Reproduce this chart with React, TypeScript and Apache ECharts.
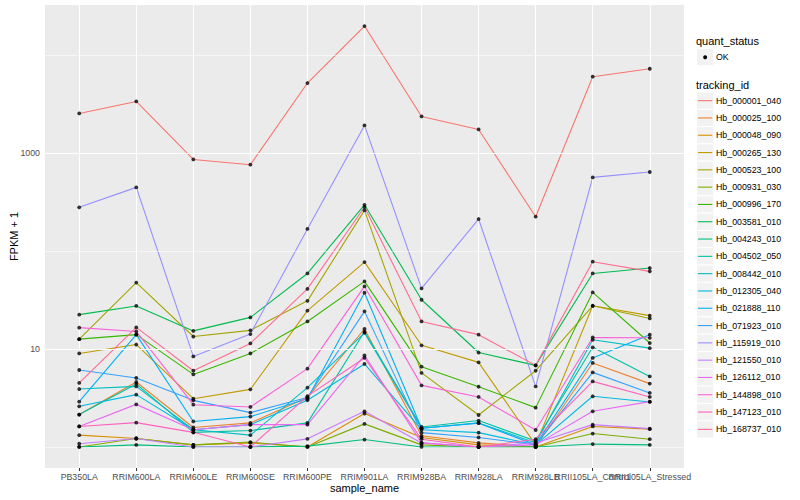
import React, { useEffect, useRef } from "react";
import * as echarts from "echarts";

const sampleNames = [
  "PB350LA", "RRIM600LA", "RRIM600LE", "RRIM600SE", "RRIM600PE", "RRIM901LA",
  "RRIM928BA", "RRIM928LA", "RRIM928LB", "RRII105LA_Control", "RRII105LA_Stressed",
];

const trackingIds = [
  "Hb_000001_040", "Hb_000025_100", "Hb_000048_090", "Hb_000265_130", "Hb_000523_100",
  "Hb_000931_030", "Hb_000996_170", "Hb_003581_010", "Hb_004243_010", "Hb_004502_050",
  "Hb_008442_010", "Hb_012305_040", "Hb_021888_110", "Hb_071923_010", "Hb_115919_010",
  "Hb_121550_010", "Hb_126112_010", "Hb_144898_010", "Hb_147123_010", "Hb_168737_010",
];

const trackingColors = [
  "#F8766D", "#EA8331", "#D89000", "#C09B00", "#A3A500", "#7CAE00", "#39B600", "#00BB4E",
  "#00BF7D", "#00C1A3", "#00BFC4", "#00BAE0", "#00B0F6", "#35A2FF", "#9590FF", "#C77CFF",
  "#E76BF3", "#FA62DB", "#FF62BC", "#FF6C91",
];

// FPKM + 1 values, one array per tracking_id, in sampleNames order
const hb_000001_040 = [2535, 3363, 860, 760, 5180, 19770, 2362, 1741, 224, 6010, 7245];
const hb_000025_100 = [2.14, 4.6, 1.58, 1.76, 3.2, 16.0, 1.3, 1.1, 1.0, 7.2, 4.43];
const hb_000048_090 = [1.32, 1.22, 1.05, 1.1, 1.0, 2.19, 1.25, 1.05, 1.0, 1.62, 1.52];
const hb_000265_130 = [9.0, 11.1, 3.11, 3.87, 24.6, 77, 10.9, 7.3, 1.05, 27.6, 21.9];
const hb_000523_100 = [12.6, 47.6, 13.4, 15.5, 31, 260, 5.7, 2.12, 6.0, 27.6, 20.5];
const hb_000931_030 = [1.0, 1.22, 1.05, 1.12, 1.0, 1.72, 1.05, 1.0, 1.0, 1.37, 1.2];
const hb_000996_170 = [12.6, 14.0, 5.5, 9.0, 19.1, 49, 6.6, 4.12, 2.52, 37.8, 11.5];
const hb_003581_010 = [22.4, 27.5, 15.3, 21, 59, 296, 31.8, 9.2, 6.8, 59, 67];
const hb_004243_010 = [1.0, 1.05, 1.0, 1.0, 1.02, 1.19, 1.0, 1.0, 1.0, 1.07, 1.05];
const hb_004502_050 = [2.14, 4.4, 1.41, 1.47, 1.76, 15.0, 1.6, 1.86, 1.15, 10.4, 5.25];
const hb_008442_010 = [3.9, 4.15, 1.5, 1.32, 4.03, 14.6, 1.55, 1.76, 1.1, 12.4, 10.2];
const hb_012305_040 = [2.6, 3.42, 1.5, 1.69, 3.0, 7.03, 1.5, 1.4, 1.05, 3.29, 2.88];
const hb_021888_110 = [2.9, 14.0, 1.82, 2.04, 3.1, 37.5, 1.55, 1.75, 1.05, 8.1, 14.0];
const hb_071923_010 = [6.1, 5.06, 2.99, 2.24, 3.2, 24.2, 1.4, 1.25, 1.05, 5.77, 3.56];
const hb_115919_010 = [279, 446, 8.4, 14.2, 168, 1913, 41.5, 212, 4.15, 564, 640];
const hb_121550_010 = [1.08, 1.22, 1.0, 1.0, 1.21, 2.31, 1.1, 1.0, 1.1, 1.69, 1.54];
const hb_126112_010 = [1.62, 2.72, 1.5, 1.69, 1.69, 8.6, 1.1, 1.0, 1.05, 2.31, 2.9];
const hb_144898_010 = [16.5, 15.1, 2.7, 2.56, 6.3, 43.5, 4.25, 3.24, 1.49, 13.1, 13.0];
const hb_147123_010 = [1.62, 1.77, 1.41, 1.0, 3.3, 8.1, 1.2, 1.0, 1.2, 4.67, 3.24];
const hb_168737_010 = [4.5, 16.6, 6.0, 11.4, 41, 281, 19.1, 14.0, 6.8, 77.8, 62];

const trackingValues = [
  hb_000001_040, hb_000025_100, hb_000048_090, hb_000265_130, hb_000523_100,
  hb_000931_030, hb_000996_170, hb_003581_010, hb_004243_010, hb_004502_050,
  hb_008442_010, hb_012305_040, hb_021888_110, hb_071923_010, hb_115919_010,
  hb_121550_010, hb_126112_010, hb_144898_010, hb_147123_010, hb_168737_010,
];

const yMajorTicks = [10, 1000];
const yMinorBreaks = [1, 100, 10000];
const quantStatus = ["OK"];

const FONT = "'Liberation Sans', Arial, Helvetica, sans-serif";

export default function App() {
  const ref = useRef<HTMLDivElement>(null);

  useEffect(() => {
    if (!ref.current) return;
    const chart = echarts.init(ref.current, undefined, { renderer: "svg" });

    const all = trackingValues.flat();
    const lo = Math.log10(Math.min(...all));
    const hi = Math.log10(Math.max(...all));
    const pad = (hi - lo) * 0.05;
    const yMin = Math.pow(10, lo - pad);
    const yMax = Math.pow(10, hi + pad);
    const xIdx = sampleNames.map((_, i) => i);
    // labels split over two axes (even / odd) so ECharts does not drop overlapping neighbours
    const xLabelA = xIdx.filter((i) => i % 2 === 0);
    const xLabelB = xIdx.filter((i) => i % 2 === 1);

    const gridLines: any[] = [];
    yMinorBreaks.forEach((v) =>
      gridLines.push({ yAxis: v, lineStyle: { color: "#FFFFFF", width: 0.55, type: "solid" } })
    );
    yMajorTicks.forEach((v) =>
      gridLines.push({ yAxis: v, lineStyle: { color: "#FFFFFF", width: 1.1, type: "solid" } })
    );
    xIdx.forEach((i) =>
      gridLines.push({ xAxis: i, lineStyle: { color: "#FFFFFF", width: 1.1, type: "solid" } })
    );

    const lineSeries = trackingIds.map((id, k) => ({
      name: id,
      type: "line",
      z: 3,
      data: trackingValues[k].map((v, i) => [i, v]),
      showSymbol: false,
      symbol: "none",
      lineStyle: { color: trackingColors[k], width: 1.1 },
      itemStyle: { color: trackingColors[k] },
      silent: true,
    }));

    const pointData: number[][] = [];
    trackingValues.forEach((arr) => arr.forEach((v, i) => pointData.push([i, v])));

    const legendX = 696.5;
    const keySize = 17.3;
    const elements: any[] = [];
    elements.push({
      type: "text", x: legendX - 0.5, y: 40.7,
      style: { text: "quant_status", fontSize: 11, fontFamily: FONT, fill: "#000", verticalAlign: "middle" },
    });
    quantStatus.forEach((q, i) => {
      const y0 = 48.5 + i * keySize;
      elements.push({
        type: "rect", shape: { x: legendX, y: y0, width: keySize, height: keySize },
        style: { fill: "#F2F2F2", stroke: "#FFFFFF", lineWidth: 1 },
      });
      elements.push({
        type: "circle", shape: { cx: legendX + keySize / 2, cy: y0 + keySize / 2, r: 2 },
        style: { fill: "#000" },
      });
      elements.push({
        type: "text", x: 716, y: y0 + keySize / 2,
        style: { text: q, fontSize: 8.8, fontFamily: FONT, fill: "#000", verticalAlign: "middle" },
      });
    });
    elements.push({
      type: "text", x: legendX - 0.5, y: 85,
      style: { text: "tracking_id", fontSize: 11, fontFamily: FONT, fill: "#000", verticalAlign: "middle" },
    });
    trackingIds.forEach((id, k) => {
      const y0 = 92 + k * keySize;
      elements.push({
        type: "rect", shape: { x: legendX, y: y0, width: keySize, height: keySize },
        style: { fill: "#F2F2F2", stroke: "#FFFFFF", lineWidth: 1 },
      });
      elements.push({
        type: "line",
        shape: { x1: legendX + 1.5, y1: y0 + keySize / 2, x2: legendX + keySize - 1.5, y2: y0 + keySize / 2 },
        style: { stroke: trackingColors[k], lineWidth: 1.1 },
      });
      elements.push({
        type: "text", x: 716, y: y0 + keySize / 2,
        style: { text: id, fontSize: 8.8, fontFamily: FONT, fill: "#000", verticalAlign: "middle" },
      });
    });

    const xLabelStyle = {
      formatter: (v: number) => sampleNames[Math.round(v)] ?? "",
      color: "#4D4D4D", fontSize: 8.8, fontFamily: FONT, margin: 4,
      hideOverlap: false, showMinLabel: true, showMaxLabel: true,
    };

    chart.setOption({
      animation: false,
      backgroundColor: "#FFFFFF",
      textStyle: { fontFamily: FONT },
      grid: {
        left: 45, top: 5, width: 639, height: 463,
        show: true, backgroundColor: "#EBEBEB", borderWidth: 0,
        containLabel: false, outerBoundsMode: "none",
      },
      xAxis: [
        {
          type: "value",
          min: -0.6,
          max: 10.6,
          position: "bottom",
          axisLine: { show: false },
          splitLine: { show: false },
          axisTick: { show: true, customValues: xIdx, length: 3, lineStyle: { color: "#333333", width: 1 } },
          axisLabel: { ...xLabelStyle, customValues: xLabelA },
          name: "sample_name",
          nameLocation: "middle",
          nameGap: 14.5,
          nameMoveOverlap: false,
          nameTextStyle: { fontSize: 11, color: "#000", fontFamily: FONT, verticalAlign: "top" },
        },
        {
          type: "value",
          min: -0.6,
          max: 10.6,
          position: "bottom",
          offset: 0,
          axisLine: { show: false },
          splitLine: { show: false },
          axisTick: { show: false },
          axisLabel: { ...xLabelStyle, customValues: xLabelB },
        },
      ],
      yAxis: {
        type: "log",
        logBase: 10,
        min: yMin,
        max: yMax,
        axisLine: { show: false },
        splitLine: { show: false },
        minorSplitLine: { show: false },
        axisTick: { show: true, customValues: yMajorTicks, length: 3, lineStyle: { color: "#333333", width: 1 } },
        axisLabel: {
          customValues: yMajorTicks,
          formatter: (v: number) => String(Math.round(v)),
          color: "#4D4D4D", fontSize: 8.8, fontFamily: FONT, margin: 5,
          showMinLabel: true, showMaxLabel: true,
        },
        name: "FPKM + 1",
        nameLocation: "middle",
        nameGap: 26,
        nameRotate: 90,
        nameMoveOverlap: false,
        nameTextStyle: { fontSize: 11, color: "#000", fontFamily: FONT },
      },
      series: [
        {
          type: "line",
          z: 1,
          data: [[0, 1]],
          symbol: "none",
          lineStyle: { opacity: 0 },
          silent: true,
          markLine: {
            silent: true,
            symbol: ["none", "none"],
            label: { show: false },
            emphasis: { disabled: true },
            data: gridLines,
          },
        },
        ...lineSeries,
        {
          type: "scatter",
          z: 5,
          data: pointData,
          symbol: "circle",
          symbolSize: 3.8,
          itemStyle: { color: "#000000" },
          silent: true,
        },
      ],
      graphic: { elements },
    });

    return () => chart.dispose();
  }, []);

  return (
    <div
      ref={ref}
      style={{ position: "fixed", left: 0, top: 0, width: 800, height: 500 }}
    />
  );
}
